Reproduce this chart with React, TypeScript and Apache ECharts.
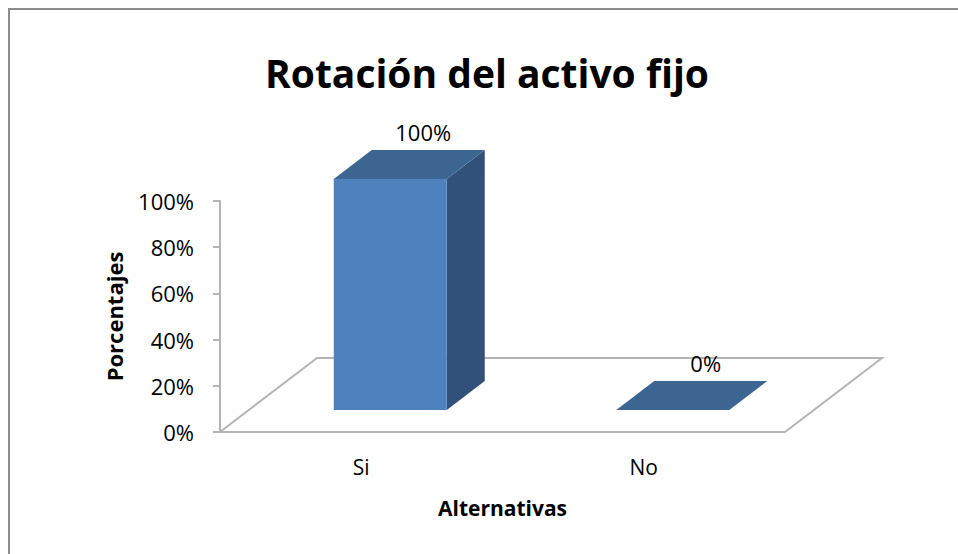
import React, { useEffect, useRef } from "react";
import * as echarts from "echarts";

// Chart data
const categories = ["Si", "No"];
const percentages = [1, 0];
const chartTitle = "Rotación del activo fijo";
const xAxisTitle = "Alternativas";
const yAxisTitle = "Porcentajes";

const FONT = "'Open Sans', 'Noto Sans', sans-serif";
const AXIS_GRAY = "#b4b4b4";
const FRONT = "#4f81bd";
const TOP = "#3d6592";
const SIDE = "#31507a";

// 3D look: depth of the floor, offset of a bar inside the floor, and bar depth
const FLOOR_DX = 97;
const FLOOR_DY = -74;
const BAR_OX = 29;
const BAR_OY = -22;
const BAR_DX = 38;
const BAR_DY = -29;

const pct = (v: number) => `${Math.round(v * 100)}%`;

export default function App() {
  const ref = useRef<HTMLDivElement>(null);

  useEffect(() => {
    if (!ref.current) return;
    const chart = echarts.init(ref.current, null, { renderer: "svg" });

    const floorRender = (params: any, api: any) => {
      const cs = params.coordSys;
      const x0 = cs.x;
      const x1 = cs.x + cs.width;
      const yb = api.coord([0, 0])[1];
      return {
        type: "polygon",
        shape: {
          points: [
            [x0, yb],
            [x1, yb],
            [x1 + FLOOR_DX, yb + FLOOR_DY],
            [x0 + FLOOR_DX, yb + FLOOR_DY],
          ],
        },
        style: { fill: "#ffffff", stroke: AXIS_GRAY, lineWidth: 2 },
        silent: true,
      };
    };

    const barRender = (params: any, api: any) => {
      const idx = api.value(0);
      const val = api.value(1);
      const base = api.coord([idx, 0]);
      const top = api.coord([idx, val]);
      const bw = api.size([1, 0])[0] * 0.4;
      const x0 = base[0] + BAR_OX - bw / 2;
      const x1 = x0 + bw;
      const yb = base[1] + BAR_OY;
      const yt = top[1] + BAR_OY;
      const children: any[] = [];
      if (yb - yt > 0.5) {
        children.push({
          type: "polygon",
          shape: {
            points: [
              [x1, yt],
              [x1 + BAR_DX, yt + BAR_DY],
              [x1 + BAR_DX, yb + BAR_DY],
              [x1, yb],
            ],
          },
          style: { fill: SIDE },
        });
        children.push({
          type: "rect",
          shape: { x: x0, y: yt, width: bw, height: yb - yt },
          style: { fill: FRONT },
        });
      }
      children.push({
        type: "polygon",
        shape: {
          points: [
            [x0, yt],
            [x1, yt],
            [x1 + BAR_DX, yt + BAR_DY],
            [x0 + BAR_DX, yt + BAR_DY],
          ],
        },
        style: { fill: TOP },
      });
      children.push({
        type: "text",
        style: {
          text: pct(val),
          x: x0 + bw / 2 + BAR_DX - 5,
          y: yt + BAR_DY - 18,
          align: "center",
          verticalAlign: "middle",
          fill: "#000000",
          font: `22px ${FONT}`,
        },
        z2: 10,
      });
      return { type: "group", children };
    };

    chart.setOption({
      animation: false,
      backgroundColor: "#ffffff",
      title: {
        text: chartTitle,
        left: 265,
        top: 53,
        padding: 0,
        textStyle: {
          fontFamily: FONT,
          fontWeight: "bold",
          fontSize: 39,
          color: "#000000",
        },
      },
      graphic: [
        {
          type: "rect",
          shape: { x: 9, y: 9, width: 1000, height: 600 },
          style: { fill: "none", stroke: "#8c8c8c", lineWidth: 2 },
          silent: true,
          z: -10,
        },
      ],
      grid: { left: 220, top: 201, right: 173, bottom: 122 },
      xAxis: {
        type: "category",
        data: categories,
        name: xAxisTitle,
        nameLocation: "middle",
        nameGap: 65,
        nameTextStyle: {
          fontFamily: FONT,
          fontWeight: "bold",
          fontSize: 21,
          color: "#000000",
        },
        axisLine: { show: false },
        axisTick: { show: false },
        axisLabel: {
          margin: 24,
          fontFamily: FONT,
          fontSize: 21,
          color: "#000000",
        },
      },
      yAxis: {
        type: "value",
        min: 0,
        max: 1,
        interval: 0.2,
        name: yAxisTitle,
        nameLocation: "middle",
        nameRotate: 90,
        nameGap: 95,
        nameTextStyle: {
          fontFamily: FONT,
          fontWeight: "bold",
          fontSize: 22,
          color: "#000000",
        },
        axisLine: { show: true, lineStyle: { color: AXIS_GRAY, width: 2 } },
        axisTick: {
          show: true,
          length: 7,
          lineStyle: { color: AXIS_GRAY, width: 2 },
        },
        splitLine: { show: false },
        axisLabel: {
          margin: 26,
          formatter: (v: number) => pct(v),
          fontFamily: FONT,
          fontSize: 22,
          color: "#000000",
        },
      },
      series: [
        {
          type: "custom",
          name: "floor",
          renderItem: floorRender,
          data: [[0, 0]],
          encode: { x: 0, y: 1 },
          z: 1,
          silent: true,
        },
        {
          type: "custom",
          name: "Porcentajes",
          renderItem: barRender,
          data: categories.map((c, i) => [i, percentages[i]]),
          encode: { x: 0, y: 1 },
          z: 3,
        },
      ],
    });

    return () => chart.dispose();
  }, []);

  return (
    <div
      ref={ref}
      style={{ position: "fixed", left: 0, top: 0, width: 958, height: 554 }}
    />
  );
}
